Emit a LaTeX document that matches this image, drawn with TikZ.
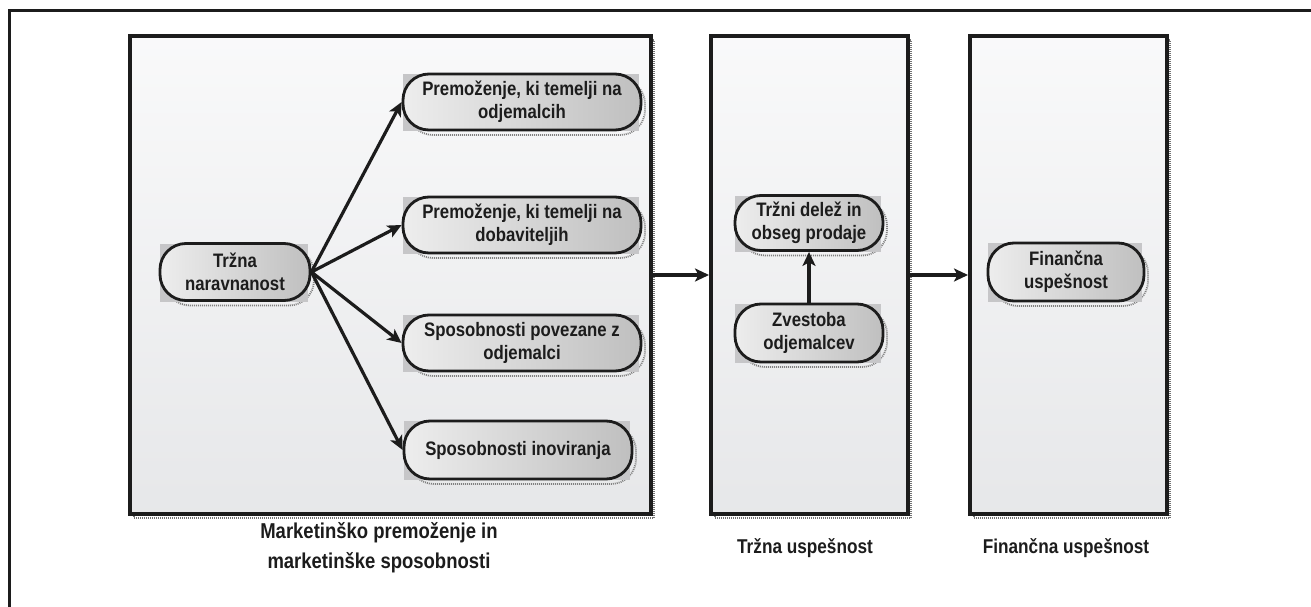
\documentclass[tikz,border=0pt]{standalone}
\usepackage{fontspec}
\setmainfont{Liberation Sans}[FakeStretch=0.86]
\usetikzlibrary{arrows.meta}

\definecolor{ink}{HTML}{1C1C1C}
\definecolor{panelfill}{HTML}{F0F1F3}
\definecolor{pillback}{HTML}{C6C6C8}

\tikzset{
  panel/.style={draw=ink, line width=4pt, top color=white!60!panelfill, bottom color=panelfill!96!black,
                anchor=north west, inner sep=0pt},
  panelshadow/.style={draw=black!55, line width=2pt, dash pattern=on 1pt off 1pt},
  pill/.style={draw=ink, line width=2.8pt, rounded corners=26pt,
               left color=black!7, right color=black!25, text=ink,
               align=center, inner sep=0pt,
               font=\bfseries\fontsize{19.5}{23}\selectfont},
  pillshadow/.style={draw=black!50, line width=1.8pt, dash pattern=on 1pt off 1pt, rounded corners=25pt},
  pillrect/.style={fill=pillback},
  arr/.style={draw=ink, line width=3.2pt, -{Stealth[length=14pt,width=13pt,inset=3.5pt]}},
  caption/.style={text=ink, align=center, font=\bfseries\fontsize{20}{30}\selectfont},
}

% #1 name, #2 centre, #3 width, #4 height, #5 text
\newcommand\pillnode[5]{%
  \begin{scope}[shift={#2}]
    \draw[pillshadow] (-#3/2+5,-#4/2+5) rectangle (#3/2+4,#4/2+5);
    \fill[pillrect] (-#3/2,-#4/2) rectangle (#3/2-2,#4/2+1);
  \end{scope}
  \node[pill, minimum width=#3, minimum height=#4] (#1) at #2 {#5};
}

% #1 name, #2 top-left corner, #3 width, #4 height
\newcommand\panelbox[4]{%
  \begin{scope}[shift={#2}]
    \draw[panelshadow] (6,6) rectangle (#3+5,#4+6);
  \end{scope}
  \node[panel, minimum width=#3, minimum height=#4] (#1) at #2 {};
}

\begin{document}
\begin{tikzpicture}[x=1pt, y=-1pt]
  \useasboundingbox (0,0) rectangle (1311,607);

  % outer frame (open to the right and bottom)
  \coordinate (frameTop) at (1311,11);
  \coordinate (frameCorner) at (9,11);
  \coordinate (frameBottom) at (9,607);
  \draw[ink, line width=3pt] (frameTop) -- (frameCorner) -- (frameBottom);

  % the three stages
  \panelbox{assets}{(128,34)}{521}{478}
  \panelbox{market}{(709,34)}{197}{478}
  \panelbox{finance}{(968,34)}{197}{478}

  % first stage
  \pillnode{orient}{(235,272)}{150}{57}{Tržna\\naravnanost}
  \pillnode{cust}{(522,102)}{238}{56}{Premoženje, ki temelji na\\odjemalcih}
  \pillnode{supp}{(522,225)}{238}{56}{Premoženje, ki temelji na\\dobaviteljih}
  \pillnode{capcust}{(522,343)}{238}{56}{Sposobnosti povezane z\\odjemalci}
  \pillnode{innov}{(518,450)}{228}{58}{Sposobnosti inoviranja}

  % second stage
  \pillnode{share}{(809,223)}{148}{55}{Tržni delež in\\obseg prodaje}
  \pillnode{loyal}{(809,333)}{148}{58}{Zvestoba\\odjemalcev}

  % third stage
  \pillnode{fin}{(1066,272)}{156}{58}{Finančna\\uspešnost}

  % connectors
  \foreach \t in {cust,supp,capcust,innov}
    \draw[arr] (orient.east) -- (\t.west);
  \draw[arr] (loyal.north) -- (share.south);
  \draw[arr] (assets.east) -- (market.west);
  \draw[arr] (market.east) -- (finance.west);

  % stage captions
  \node[caption, font=\bfseries\fontsize{21.5}{30}\selectfont] (capAssets) at (379,548) {Marketinško premoženje in\\marketinške sposobnosti};
  \node[caption] (capMarket) at (805,548) {Tržna uspešnost};
  \node[caption] (capFinance) at (1066,548) {Finančna uspešnost};
\end{tikzpicture}
\end{document}
